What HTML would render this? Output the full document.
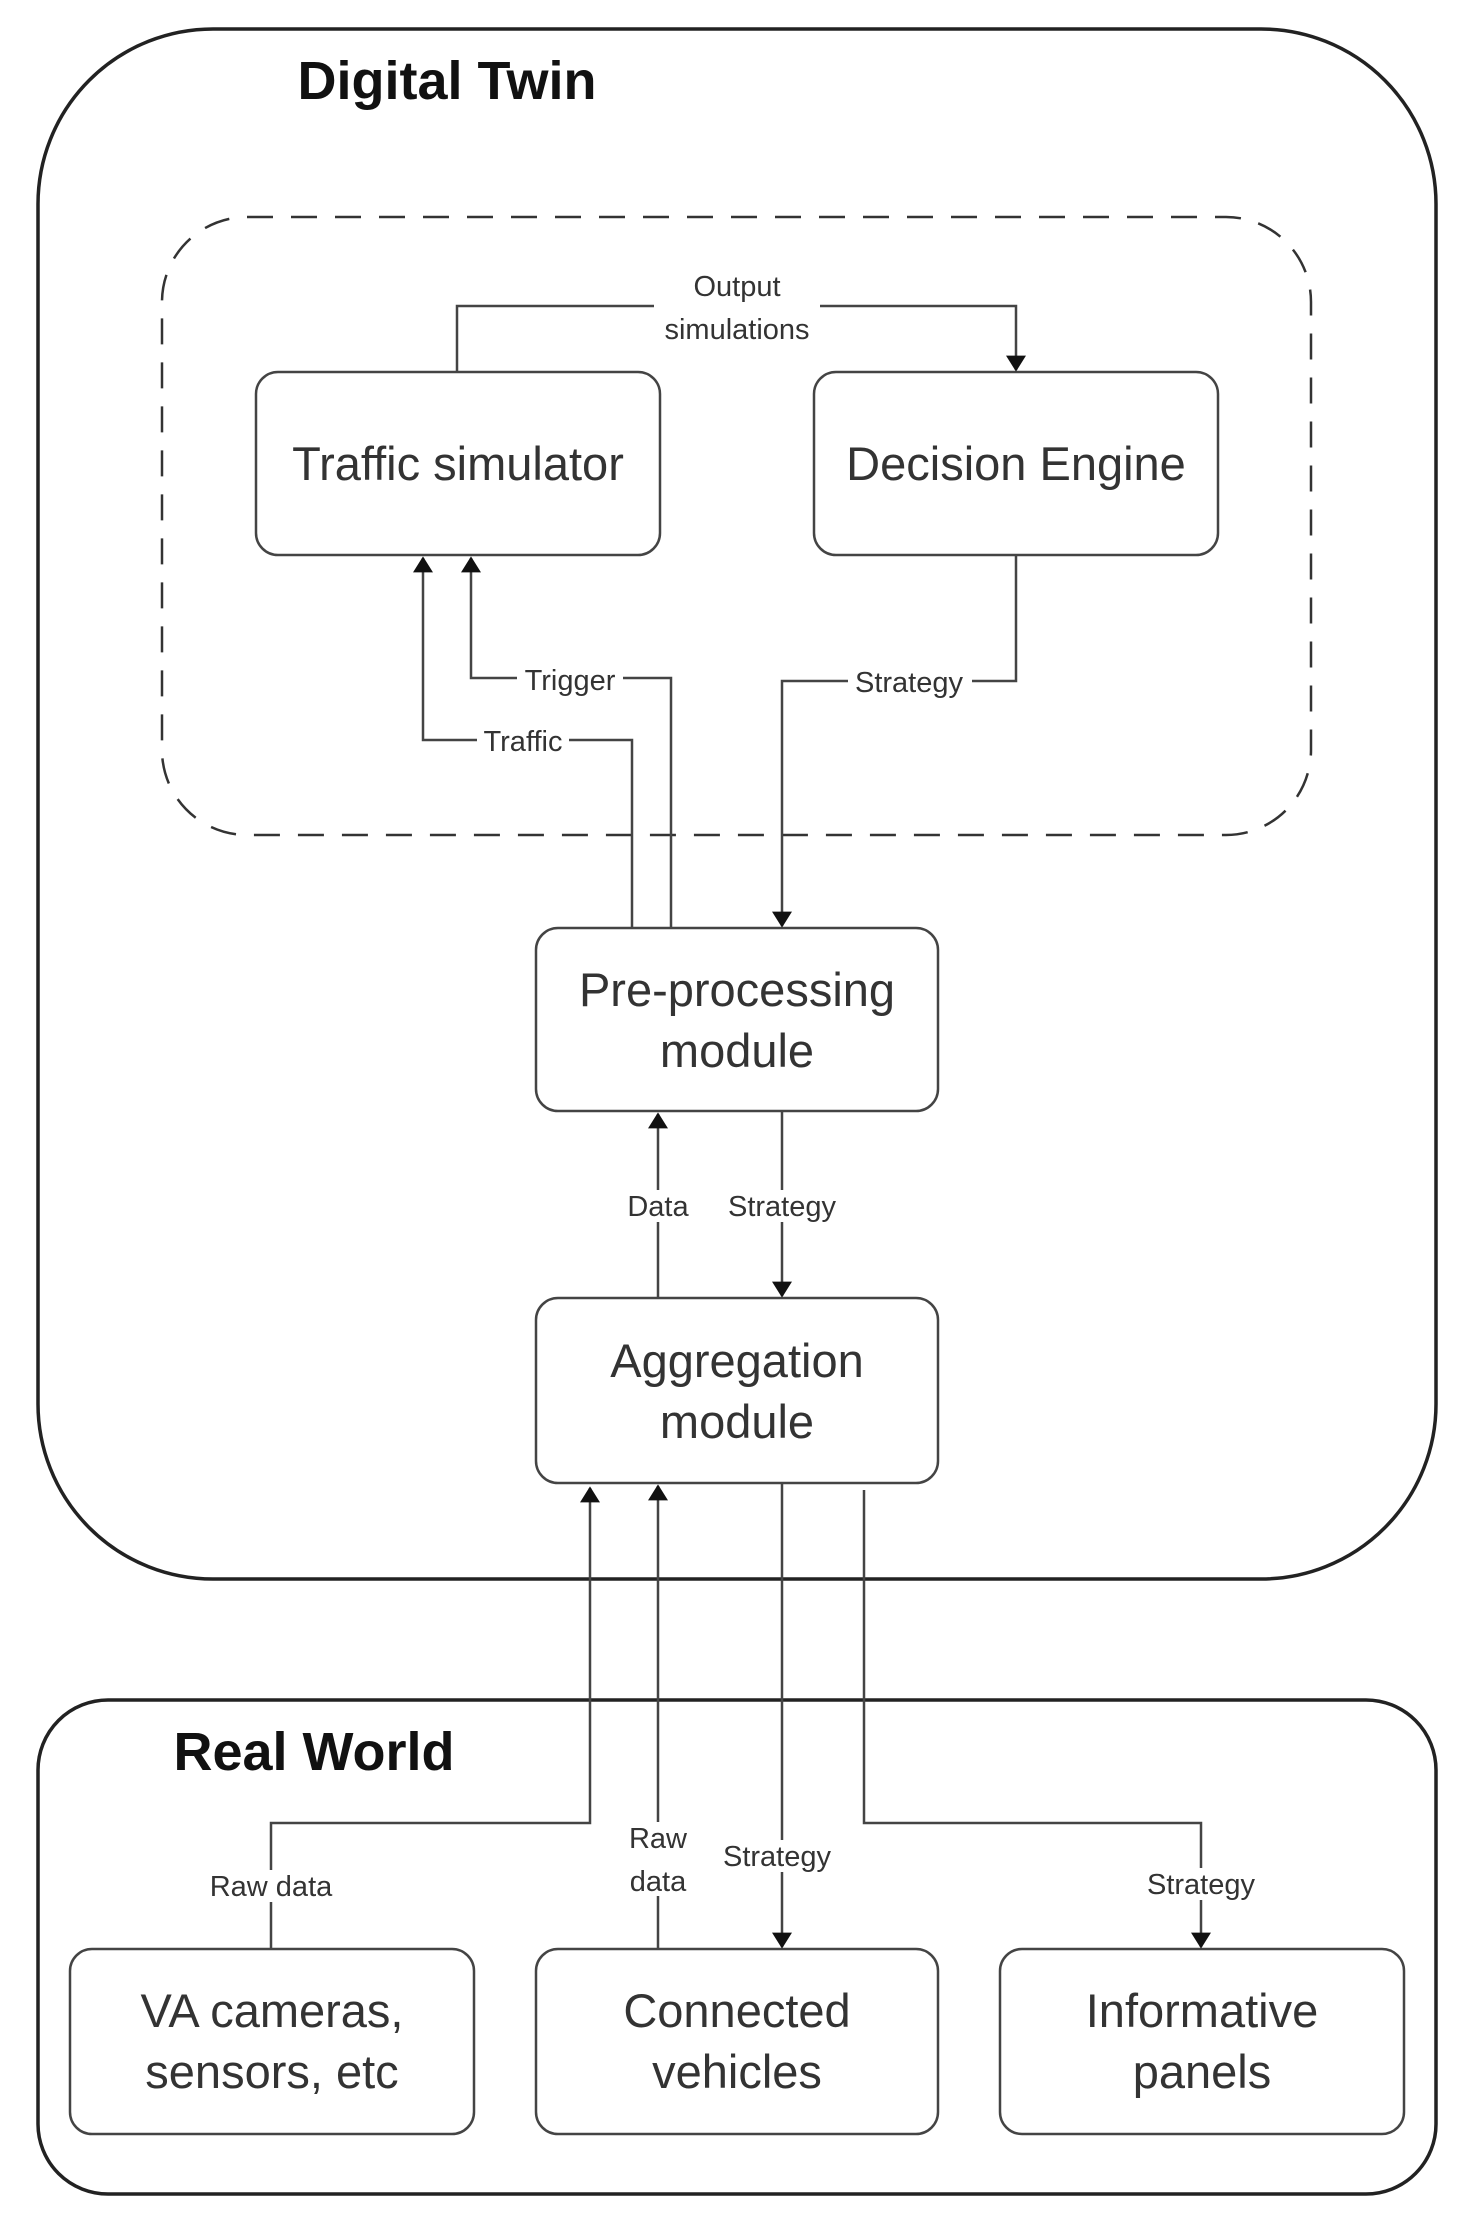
<!DOCTYPE html>
<html><head><meta charset="utf-8"><style>
html,body{margin:0;padding:0;background:#fff;}
svg{display:block}
text{font-family:"Liberation Sans",sans-serif;fill:#333}
</style></head><body>
<svg width="1459" height="2222" viewBox="0 0 1459 2222" xmlns="http://www.w3.org/2000/svg">
<defs>
<marker id="a" markerWidth="16" markerHeight="20" refX="9" refY="5" orient="auto" markerUnits="userSpaceOnUse" viewBox="0 0 10 10" preserveAspectRatio="none">
<path d="M0,0 L10,5 L0,10 Z" fill="#111"/></marker>
</defs>
<g fill="none" stroke="#222" stroke-width="3.5">
<rect x="38" y="29" width="1398" height="1550" rx="175" ry="175"/>
<rect x="38" y="1700" width="1398" height="494" rx="70" ry="70"/>
</g>
<rect x="162" y="217" width="1149" height="618" rx="85" ry="85" fill="none" stroke="#333" stroke-width="2.5" stroke-dasharray="26,18"/>
<g fill="#fff" stroke="#444" stroke-width="2.5">
<rect x="256" y="372" width="404" height="183" rx="22"/>
<rect x="814" y="372" width="404" height="183" rx="22"/>
<rect x="536" y="928" width="402" height="183" rx="22"/>
<rect x="536" y="1298" width="402" height="185" rx="22"/>
<rect x="70" y="1949" width="404" height="185" rx="22"/>
<rect x="536" y="1949" width="402" height="185" rx="22"/>
<rect x="1000" y="1949" width="404" height="185" rx="22"/>
</g>
<g fill="none" stroke="#444" stroke-width="2.5">
<polyline points="457,372 457,306 1016,306 1016,370" marker-end="url(#a)"/>
<polyline points="671,928 671,678 471,678 471,558" marker-end="url(#a)"/>
<polyline points="632,928 632,740 423,740 423,558" marker-end="url(#a)"/>
<polyline points="1016,555 1016,681 782,681 782,926" marker-end="url(#a)"/>
<polyline points="658,1298 658,1114" marker-end="url(#a)"/>
<polyline points="782,1111 782,1296" marker-end="url(#a)"/>
<polyline points="271,1949 271,1823 590,1823 590,1488" marker-end="url(#a)"/>
<polyline points="658,1949 658,1486" marker-end="url(#a)"/>
<polyline points="782,1483 782,1947" marker-end="url(#a)"/>
<polyline points="864,1490 864,1823 1201,1823 1201,1947" marker-end="url(#a)"/>
</g>
<g fill="#fff">
<rect x="654" y="268" width="166" height="76"/>
<rect x="517" y="664" width="106" height="30"/>
<rect x="477" y="725" width="92" height="30"/>
<rect x="848" y="666" width="124" height="30"/>
<rect x="620" y="1190" width="76" height="32"/>
<rect x="718" y="1190" width="128" height="32"/>
<rect x="196" y="1870" width="150" height="32"/>
<rect x="622" y="1822" width="72" height="74"/>
<rect x="713" y="1840" width="128" height="32"/>
<rect x="1137" y="1868" width="128" height="32"/>
</g>
<g font-size="29" text-anchor="middle">
<text x="737" y="296">Output</text>
<text x="737" y="339">simulations</text>
<text x="570" y="690">Trigger</text>
<text x="523" y="751">Traffic</text>
<text x="909" y="692">Strategy</text>
<text x="658" y="1216">Data</text>
<text x="782" y="1216">Strategy</text>
<text x="271" y="1896">Raw data</text>
<text x="658" y="1848">Raw</text>
<text x="658" y="1891">data</text>
<text x="777" y="1866">Strategy</text>
<text x="1201" y="1894">Strategy</text>
</g>
<g font-size="47" text-anchor="middle">
<text x="458" y="480">Traffic simulator</text>
<text x="1016" y="480">Decision Engine</text>
<text x="737" y="1006">Pre-processing</text>
<text x="737" y="1067">module</text>
<text x="737" y="1377">Aggregation</text>
<text x="737" y="1438">module</text>
<text x="272" y="2027">VA cameras,</text>
<text x="272" y="2088">sensors, etc</text>
<text x="737" y="2027">Connected</text>
<text x="737" y="2088">vehicles</text>
<text x="1202" y="2027">Informative</text>
<text x="1202" y="2088">panels</text>
</g>
<g font-size="54" font-weight="bold" text-anchor="middle">
<text x="447" y="99" style="fill:#111">Digital Twin</text>
<text x="314" y="1770" style="fill:#111">Real World</text>
</g>
</svg>
</body></html>
